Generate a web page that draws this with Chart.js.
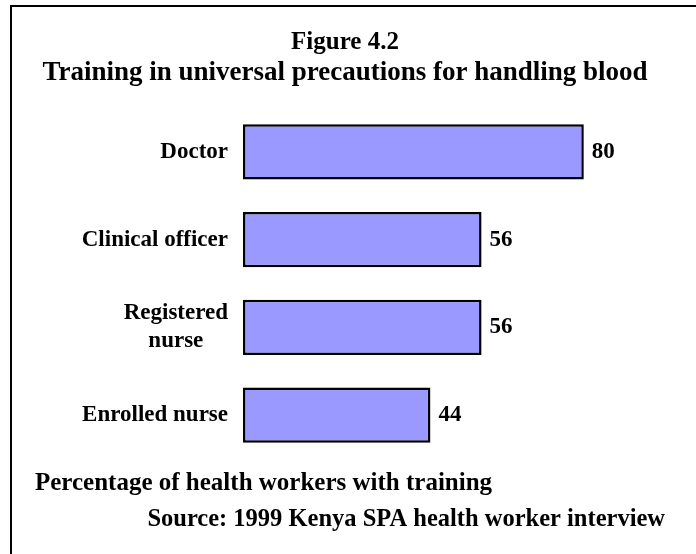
<!DOCTYPE html>
<html>
<head>
<meta charset="utf-8">
<script src="https://cdn.jsdelivr.net/npm/chart.js@4"></script>
<style>
    html, body { margin: 0; padding: 0; background: #fff; overflow: hidden; }
    #wrap { position: relative; width: 696px; height: 554px; }
    #frame { position: absolute; left: 10px; top: 5px; width: 720px; height: 600px;
             border-left: 2px solid #000; border-top: 2px solid #000; }
    canvas { position: absolute; left: 0; top: 0; }
</style>
</head>
<body>
<div id="wrap">
    <div id="frame"></div>
    <canvas id="chart" width="696" height="554"></canvas>
</div>
<script>
const categories = [['Doctor'], ['Clinical officer'], ['Registered', 'nurse'], ['Enrolled nurse']];
const percentTrained = [80, 56, 56, 44];
const titleLines = ['Figure 4.2', 'Training in universal precautions for handling blood'];
const axisNote = 'Percentage of health workers with training';
const sourceNote = 'Source: 1999 Kenya SPA health worker interview';

const SERIF = "'Liberation Serif', 'Times New Roman', serif";

// category labels, title, notes and value labels drawn on the canvas
const textPlugin = {
    id: 'textPlugin',
    afterDatasetsDraw(chart) {
        const { ctx, scales } = chart;
        const y = scales.y;
        ctx.save();
        ctx.fillStyle = '#000';
        ctx.textBaseline = 'middle';

        ctx.font = `bold 23px ${SERIF}`;
        const labelRight = chart.chartArea.left - 15;
        categories.forEach((lines, i) => {
            const cy = y.getPixelForValue(i);
            const widest = Math.max(...lines.map(l => ctx.measureText(l).width));
            const cx = labelRight - widest / 2;
            const lh = 28;
            ctx.textAlign = 'center';
            lines.forEach((line, j) => {
                ctx.fillText(line, cx, cy + (j - (lines.length - 1) / 2) * lh);
            });
        });

        const meta = chart.getDatasetMeta(0);
        ctx.textAlign = 'left';
        meta.data.forEach((bar, i) => {
            ctx.fillText(String(percentTrained[i]), bar.x + 8, bar.y);
        });

        ctx.textBaseline = 'alphabetic';
        ctx.textAlign = 'center';
        ctx.font = `bold 25px ${SERIF}`;
        ctx.fillText(titleLines[0], 345, 49);
        ctx.font = `bold 27px ${SERIF}`;
        ctx.fillText(titleLines[1], 345, 80);

        ctx.textAlign = 'left';
        ctx.font = `bold 25px ${SERIF}`;
        ctx.fillText(axisNote, 35, 490);
        ctx.textAlign = 'right';
        ctx.font = `bold 24.5px ${SERIF}`;
        ctx.fillText(sourceNote, 665, 526);
        ctx.restore();
    }
};

new Chart(document.getElementById('chart'), {
    type: 'bar',
    data: {
        labels: categories,
        datasets: [{
            data: percentTrained,
            backgroundColor: '#9999ff',
            borderColor: '#000',
            borderWidth: 2.5,
            borderSkipped: false,
            barPercentage: 0.63,
            categoryPercentage: 1
        }]
    },
    options: {
        indexAxis: 'y',
        responsive: false,
        animation: false,
        layout: { padding: { left: 243, right: 27, top: 108, bottom: 95 } },
        plugins: { legend: { display: false }, tooltip: { enabled: false } },
        scales: {
            x: { display: false, min: 0, max: 100 },
            y: { display: false }
        }
    },
    plugins: [textPlugin]
});
</script>
</body>
</html>
